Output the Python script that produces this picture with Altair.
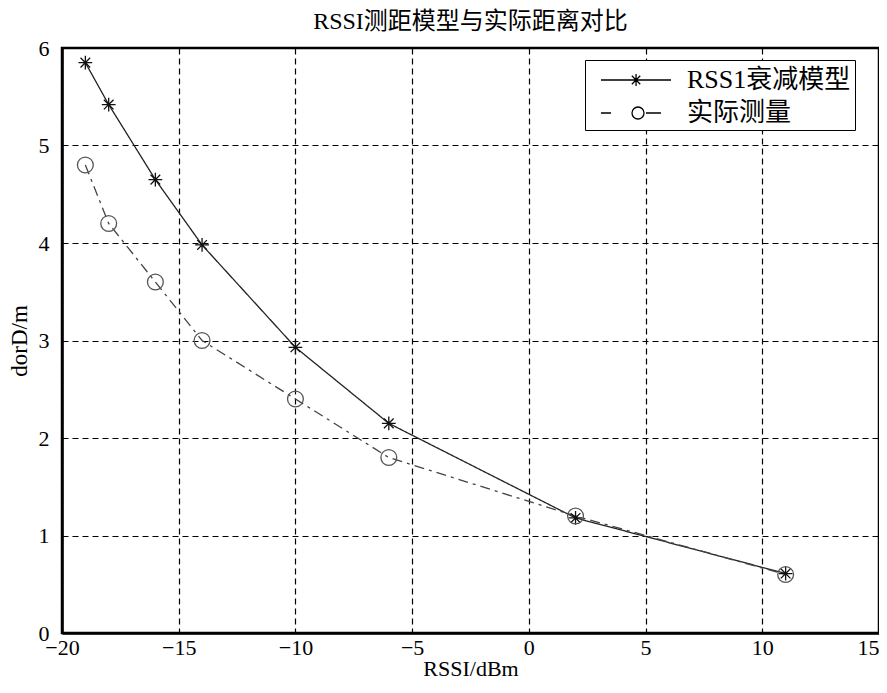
import altair as alt
import pandas as pd

# ---- data ----
series = ["RSS1衰减模型", "实际测量"]
rssi = [-19, -18, -16, -14, -10, -6, 2, 11]
model = [5.85, 5.42, 4.65, 3.98, 2.93, 2.15, 1.18, 0.61]
measured = [4.8, 4.2, 3.6, 3.0, 2.4, 1.8, 1.2, 0.6]
x_ticks = [-20, -15, -10, -5, 0, 5, 10, 15]
y_ticks = [0, 1, 2, 3, 4, 5, 6]

rows = []
for xv, yv in zip(rssi, model):
    rows.append({"rssi": xv, "d": yv, "series": series[0]})
for xv, yv in zip(rssi, measured):
    rows.append({"rssi": xv, "d": yv, "series": series[1]})
df = pd.DataFrame(rows)

FONT = "Liberation Serif, Noto Sans CJK SC"

STAR = "M-1,0L1,0M0,-1L0,1M-0.7,-0.7L0.7,0.7M-0.7,0.7L0.7,-0.7"
# legend symbols: a line segment with the marker on it (unit = 15px)
LEG_STAR = ("M-0.27,0L4.4,0M1.67,0L2.47,0M2.07,-0.4L2.07,0.4"
            "M1.79,-0.28L2.35,0.28M1.79,0.28L2.35,-0.28")
LEG_CIRC = ("M-0.27,0L0.4,0M1.8,0A0.4,0.4 0 1,0 2.6,0"
            "A0.4,0.4 0 1,0 1.8,0M2.73,0L3.73,0")

axis_common = dict(
    grid=True, gridColor="black", gridDash=[6, 4], gridWidth=1.2, gridOpacity=1,
    domainColor="black", domainWidth=2.5, tickSize=0,
    labelFont=FONT, labelColor="black",
    titleFont=FONT, titleFontWeight="normal", titleColor="black",
)

x_enc = alt.X("rssi:Q", scale=alt.Scale(domain=[-20, 15], nice=False, zero=False),
              axis=alt.Axis(values=x_ticks, title="RSSI/dBm", labelPadding=4,
                            labelFontSize=22, titleFontSize=22,
                            titlePadding=0, labelFlush=False,
                            labelAlign={"condition": {"test": "datum.value >= 15", "value": "right"},
                                        "value": "center"},
                            **axis_common))
y_enc = alt.Y("d:Q", scale=alt.Scale(domain=[0, 6], nice=False),
              axis=alt.Axis(values=y_ticks, title="dorD/m", labelPadding=13,
                            labelFontSize=22, titleFontSize=23,
                            titlePadding=7, labelFlush=False, **axis_common))

base = alt.Chart(df)

lines = base.mark_line(strokeWidth=1.3).encode(
    x=x_enc, y=y_enc,
    strokeDash=alt.StrokeDash("series:N", scale=alt.Scale(domain=series, range=[[1, 0], [10, 5, 3, 5]]), legend=None),
    color=alt.Color("series:N", scale=alt.Scale(domain=series, range=["#222222", "#444444"]), legend=None),
)

points = base.mark_point(filled=False, strokeWidth=1.3, opacity=1).encode(
    x=x_enc, y=y_enc,
    shape=alt.Shape("series:N", scale=alt.Scale(domain=series, range=[STAR, "circle"]), legend=None),
    size=alt.Size("series:N", scale=alt.Scale(domain=series, range=[190, 250]), legend=None),
    color=alt.Color("series:N", scale=alt.Scale(domain=series, range=["#111111", "#555555"]), legend=None),
)

legend_layer = base.mark_point(filled=False, color="black", opacity=1).encode(
    x=x_enc, y=y_enc,
    shape=alt.Shape("series:N", scale=alt.Scale(domain=series, range=[LEG_STAR, LEG_CIRC]),
                    legend=alt.Legend(title=None, orient="none", legendX=523, legendY=12,
                                      symbolSize=900, symbolStrokeColor="black",
                                      symbolStrokeWidth=1.3, symbolFillColor="transparent",
                                      labelFont=FONT, labelFontSize=26, labelColor="black",
                                      labelOffset=66, labelLimit=400,
                                      strokeColor="black", fillColor="white",
                                      padding=4, rowPadding=4)),
).transform_filter("datum.rssi < -100")

chart = alt.layer(lines, points, legend_layer).resolve_scale(
    shape="independent", color="independent", size="independent", strokeDash="independent"
).properties(
    width=817, height=585,
    title=alt.TitleParams("RSSI测距模型与实际距离对比", font=FONT, fontSize=24,
                          fontWeight="normal", color="black", offset=3, anchor="middle"),
    autosize=alt.AutoSizeParams(type="none"),
    padding={"left": 54, "top": 40, "right": 0, "bottom": 48},
).configure_view(stroke="black", strokeWidth=2.5)

chart.save("out.html", embed_options={"renderer": "svg", "actions": False})
